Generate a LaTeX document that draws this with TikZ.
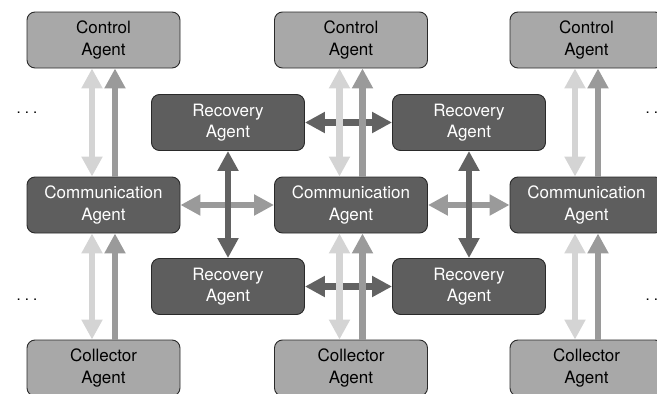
\documentclass[tikz,border=0pt]{standalone}
\usepackage{fontspec}
\setmainfont{TeX Gyre Heros}
\usetikzlibrary{arrows.meta}
\definecolor{boxlight}{HTML}{A8A8A8}
\definecolor{boxdark}{HTML}{5E5E5E}
\definecolor{arrlight}{HTML}{D4D4D4}
\definecolor{arrmid}{HTML}{9A9A9A}
\definecolor{arrdark}{HTML}{626262}
\definecolor{edge}{HTML}{2A2A2A}
\tikzset{
  agent/.style={draw=edge, line width=0.9pt, rounded corners=8pt, minimum width=153pt, minimum height=56pt, inner sep=0pt, align=center, font=\fontsize{17}{21.5}\selectfont, execute at begin node={\rule{0pt}{16.5pt}}},
  lightagent/.style={agent, fill=boxlight, text=black},
  darkagent/.style={agent, fill=boxdark, text=white},
  tipx/.tip={Triangle[width=20pt,length=20pt]},
  onearrow/.style={line width=6.5pt, -tipx},
  twoarrow/.style={line width=6.5pt, tipx-tipx},
  dotsnode/.style={font=\fontsize{15}{15}\selectfont, inner sep=0pt}
}
\begin{document}
\begin{tikzpicture}[x=1pt,y=-1pt]
\useasboundingbox (0,0) rectangle (657,394);
\clip (0,0) rectangle (657,394);
% agents
\node[lightagent] (ctrlA) at (103.5,40) {Control\\Agent};
\node[lightagent] (ctrlB) at (351,40) {Control\\Agent};
\node[lightagent] (ctrlC) at (586.5,40) {Control\\Agent};
\node[darkagent] (commA) at (103.5,205) {Communication\\Agent};
\node[darkagent] (commB) at (351,205) {Communication\\Agent};
\node[darkagent] (commC) at (586.5,205) {Communication\\Agent};
\node[lightagent] (collA) at (103.5,368) {Collector\\Agent};
\node[lightagent] (collB) at (351,368) {Collector\\Agent};
\node[lightagent] (collC) at (586.5,368) {Collector\\Agent};
\node[darkagent] (recTL) at (228,122.5) {Recovery\\Agent};
\node[darkagent] (recTR) at (469,122.5) {Recovery\\Agent};
\node[darkagent] (recBL) at (228,286.5) {Recovery\\Agent};
\node[darkagent] (recBR) at (469,286.5) {Recovery\\Agent};
% dots
\node[dotsnode] (dotsTL) at (27,113) {.\hspace{4pt}.\hspace{4pt}.};
\node[dotsnode] (dotsBL) at (27,300) {.\hspace{4pt}.\hspace{4pt}.};
\node[dotsnode] (dotsTR) at (656,113) {.\hspace{4pt}.\hspace{4pt}.};
\node[dotsnode] (dotsBR) at (656,300) {.\hspace{4pt}.\hspace{4pt}.};
% horizontal arrows (drawn first, beneath)
\draw[twoarrow, arrmid] (commA.east) -- (commB.west);
\draw[twoarrow, arrmid] (commB.east) -- (commC.west);
\draw[twoarrow, arrdark] (recTL.east) -- (recTR.west);
\draw[twoarrow, arrdark] (recBL.east) -- (recBR.west);
% vertical recovery arrows
\draw[twoarrow, arrdark] (recTL.south) -- (recBL.north);
\draw[twoarrow, arrdark] (recTR.south) -- (recBR.north);
% vertical control / collector arrows
\foreach \c in {A,B,C}{
  \draw[twoarrow, arrlight] ([xshift=-11.5pt]ctrl\c.south) -- ([xshift=-11.5pt]comm\c.north);
  \draw[onearrow, arrmid] ([xshift=11.5pt]comm\c.north) -- ([xshift=11.5pt]ctrl\c.south);
  \draw[twoarrow, arrlight] ([xshift=-11.5pt]comm\c.south) -- ([xshift=-11.5pt]coll\c.north);
  \draw[onearrow, arrmid] ([xshift=11.5pt]coll\c.north) -- ([xshift=11.5pt]comm\c.south);
}
\end{tikzpicture}
\end{document}
